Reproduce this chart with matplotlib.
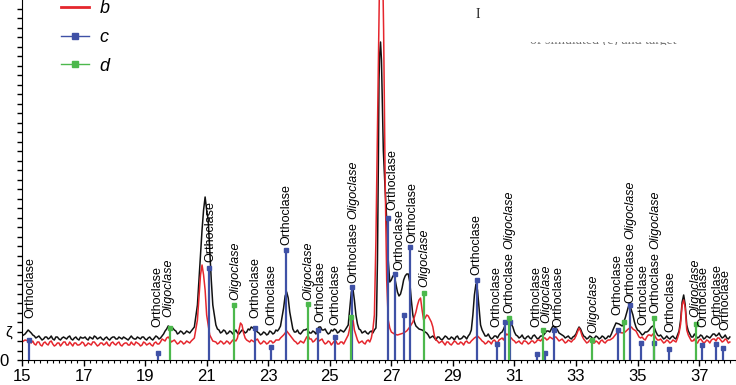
import matplotlib
matplotlib.use("Agg")
import matplotlib.pyplot as plt
import numpy as np
from matplotlib.lines import Line2D
from matplotlib.legend_handler import HandlerLine2D
from matplotlib.transforms import Bbox

plt.rcParams["font.family"] = ["Liberation Sans", "DejaVu Sans"]

# measured (a) and simulated (b) patterns, read every 0.1 deg 2theta
grid_2theta = np.round(np.arange(15.0, 38.05, 0.1), 2)
black_grid = [
    24, 26, 30, 27, 24, 23, 22, 21, 23, 22,
    21, 23, 21, 22, 22, 23, 21, 22, 21, 23,
    22, 21, 23, 21, 23, 22, 21, 22, 21, 22,
    23, 21, 22, 23, 21, 22, 22, 21, 22, 23,
    21, 22, 21, 22, 23, 22, 26, 31, 33, 32,
    29, 27, 28, 27, 28, 29, 33, 55, 105, 150,
    150, 110, 55, 35, 30, 28, 29, 27, 28, 28,
    27, 28, 29, 28, 30, 32, 30, 27, 26, 27,
    26, 28, 27, 29, 34, 52, 68, 48, 31, 28,
    27, 28, 30, 29, 27, 28, 31, 33, 30, 28,
    27, 29, 30, 28, 29, 30, 35, 68, 60, 36,
    30, 28, 27, 28, 27, 32, 280, 270, 170, 100,
    80, 84, 68, 66, 80, 86, 78, 45, 34, 31,
    30, 28, 25, 23, 22, 23, 21, 22, 23, 21,
    22, 23, 21, 22, 23, 24, 30, 65, 70, 35,
    27, 24, 23, 22, 24, 25, 28, 35, 40, 36,
    28, 24, 23, 22, 23, 22, 24, 23, 22, 24,
    27, 29, 31, 33, 30, 26, 24, 23, 22, 23,
    26, 33, 27, 23, 22, 23, 22, 23, 22, 23,
    22, 23, 30, 37, 36, 34, 42, 53, 50, 38,
    30, 27, 26, 28, 31, 34, 28, 24, 23, 22,
    22, 23, 22, 25, 40, 65, 35, 26, 23, 24,
    23, 24, 22, 23, 24, 26, 25, 24, 23, 22,
    23,
]
red_grid = [
    18, 20, 19, 17, 16, 18, 15, 17, 16, 18,
    16, 15, 17, 16, 18, 15, 16, 17, 15, 16,
    17, 15, 16, 18, 16, 15, 17, 16, 15, 17,
    16, 17, 15, 16, 17, 15, 16, 18, 16, 15,
    17, 16, 15, 17, 16, 18, 20, 22, 21, 19,
    18, 17, 18, 17, 18, 19, 22, 40, 85, 85,
    45, 25, 19, 18, 17, 18, 17, 18, 18, 20,
    22, 37, 27, 20, 18, 19, 20, 18, 17, 18,
    17, 19, 18, 20, 22, 25, 29, 25, 21, 18,
    17, 18, 20, 24, 21, 19, 22, 20, 18, 17,
    18, 17, 19, 16, 18, 19, 25, 40, 30, 20,
    18, 17, 19, 18, 30, 120, 340, 420, 180, 40,
    28, 26, 25, 26, 27, 29, 33, 38, 48, 60,
    50, 42, 44, 38, 24, 19, 18, 17, 18, 16,
    17, 18, 16, 17, 18, 17, 19, 22, 24, 21,
    18, 17, 18, 19, 18, 20, 22, 24, 25, 22,
    19, 18, 17, 19, 18, 17, 19, 18, 20, 21,
    22, 21, 22, 23, 21, 20, 19, 18, 19, 20,
    24, 32, 24, 19, 18, 19, 17, 18, 19, 18,
    19, 20, 22, 26, 28, 27, 28, 31, 33, 30,
    26, 22, 21, 23, 25, 26, 22, 20, 19, 18,
    19, 18, 19, 22, 36, 60, 30, 22, 19, 18,
    20, 19, 18, 19, 20, 21, 22, 20, 19, 20,
    18,
]
# in-between readings (x.x5 deg) on the flat stretches
mid_ranges = [(15.35, 20.45), (21.35, 23.35), (23.85, 25.45), (25.95, 26.35),
              (28.15, 29.55), (29.95, 34.15), (34.85, 36.35), (36.65, 37.95)]
black_mid = [
    25, 22, 24, 20, 23, 21, 24, 20, 23, 20, 23, 21, 24, 20, 23, 20, 22, 23, 20, 22,
    24, 21, 23, 20, 23, 20, 23, 21, 23, 21, 22, 20, 24, 21, 23, 21, 23, 20, 23, 20,
    24, 21, 24, 29, 34, 31, 30, 26, 29, 26, 29, 27,
    31, 27, 30, 26, 29, 26, 30, 26, 30, 27, 31, 33, 31, 28, 25, 28, 25, 29, 26, 30, 31,
    28, 30, 26, 30, 31, 27, 29, 26, 33, 30, 31, 26, 30, 31, 27, 30, 28,
    31, 27, 29, 26, 29,
    27, 22, 24, 20, 23, 20, 24, 21, 23, 20, 24, 21, 24, 21, 26,
    30, 24, 26, 21, 24, 22, 27, 31, 39, 37, 33, 25, 22, 25, 21, 24, 21, 25, 21, 24,
    25, 29, 28, 34, 32, 27, 25, 22, 24, 21, 24, 30, 31, 24, 21, 24, 21, 24, 21, 24,
    21, 24, 26,
    45, 33, 29, 25, 28, 29, 33, 32, 25, 25, 21, 24, 21, 24, 21, 29,
    29, 23, 26, 22, 25, 21, 24, 22, 26, 24, 27, 22, 25, 21,
]
red_mid = [
    19, 15, 18, 14, 18, 15, 19, 14, 17, 14, 18, 15, 18, 14, 17, 15, 18, 14, 17, 15,
    18, 14, 17, 15, 18, 14, 18, 15, 18, 14, 17, 15, 18, 15, 17, 14, 18, 15, 17, 14,
    18, 16, 21, 19, 23, 18, 20, 16, 19, 16, 19, 17,
    16, 19, 16, 19, 16, 20, 19, 30, 35, 22, 19, 20, 18, 21, 16, 19, 16, 19, 17, 20, 20,
    19, 16, 19, 17, 23, 21, 18, 21, 19, 21, 16, 19, 15, 19, 16, 18, 16,
    17, 19, 16, 20, 22,
    45, 41, 33, 20, 17, 19, 15, 18, 15, 19, 16, 18, 15, 19, 17,
    19, 16, 19, 16, 20, 17, 21, 20, 26, 23, 20, 17, 19, 16, 19, 16, 19, 17, 20, 19,
    22, 20, 23, 21, 23, 19, 21, 17, 20, 18, 21, 28, 29, 21, 17, 20, 17, 19, 16, 20,
    17, 20, 21,
    31, 29, 23, 23, 20, 25, 24, 25, 20, 21, 17, 20, 17, 20, 18, 27,
    25, 19, 21, 17, 21, 17, 20, 17, 21, 19, 22, 18, 21, 17,
]
# extra points read on the peaks
black_peak_2theta = [20.75, 20.85, 20.95, 21.05, 21.15, 23.55, 23.65, 25.65, 25.75, 25.85,
                     26.45, 26.52, 26.55, 26.58, 26.62, 26.65, 26.68, 26.74, 26.85, 26.95,
                     27.05, 27.15, 27.25, 27.35, 27.45, 27.55, 27.65, 27.75,
                     29.65, 29.75, 29.85, 34.75, 36.45, 36.55]
black_peak_counts = [80, 130, 163, 140, 80, 64, 62, 52, 72, 45,
                     30, 45, 100, 200, 305, 318, 300, 210, 140, 78,
                     84, 76, 64, 72, 84, 86, 60, 38,
                     45, 76, 52, 55, 58, 55]
red_peak_2theta = [20.75, 20.85, 20.95, 25.65, 25.75,
                   26.45, 26.55, 26.65, 26.72, 26.75, 26.85, 26.95,
                   27.85, 27.95, 28.05, 36.45, 36.55]
red_peak_counts = [62, 95, 70, 32, 42,
                   45, 230, 460, 390, 330, 80, 32,
                   55, 62, 40, 55, 52]

# reference sticks: orthoclase (c) and oligoclase (d)
ortho_2theta = [15.23, 19.42, 21.06, 22.58, 23.10, 23.58, 24.61, 25.16, 25.71, 26.90,
                27.13, 27.42, 27.61, 29.77, 30.45, 30.71, 30.87, 31.74, 32.00, 32.29,
                34.35, 34.74, 35.10, 35.52, 36.03, 37.10, 37.55, 37.77]
ortho_counts = [20, 7, 92, 32, 13, 110, 30, 23, 73, 142,
                86, 45, 113, 80, 16, 38, 38, 6, 7, 30,
                30, 55, 17, 17, 11, 15, 16, 12]
oligo_2theta = [19.81, 21.90, 24.29, 25.68, 28.06, 30.81, 31.94, 33.52, 34.55, 35.52, 36.90]
oligo_counts = [32, 55, 56, 43, 67, 42, 30, 20, 38, 42, 36]

label_2theta = [15.26, 19.39, 19.77, 21.13, 21.94, 22.58, 23.10, 23.58, 24.29, 24.68,
                25.19, 25.77, 27.03, 27.26, 27.68, 28.06, 29.77, 30.42, 30.84, 31.71,
                32.03, 32.42, 33.55, 34.35, 34.77, 35.19, 35.58, 36.06, 36.87, 37.13,
                37.58, 37.84]
label_base = [42, 33, 43, 98, 60, 42, 35, 115, 60, 38,
              35, 77, 150, 90, 117, 73, 85, 33, 47, 33,
              37, 33, 27, 45, 57, 35, 47, 28, 43, 33,
              35, 30]
label_text = ["Orthoclase", "Orthoclase", "Oligoclase", "Orthoclase", "Oligoclase",
              "Orthoclase", "Orthoclase", "Orthoclase", "Oligoclase", "Orthoclase",
              "Orthoclase", "Orthoclase Oligoclase", "Orthoclase", "Orthoclase", "Orthoclase",
              "Oligoclase", "Orthoclase", "Orthoclase", "Orthoclase Oligoclase", "Orthoclase",
              "Oligoclase", "Orthoclase", "Oligoclase", "Orthoclase", "Orthoclase Oligoclase",
              "Orthoclase", "Orthoclase Oligoclase", "Orthoclase", "Oligoclase", "Orthoclase",
              "Orthoclase", "Orthoclase"]

RED = "#e5262d"
BLUE = "#3f51a6"
GREEN = "#4cb84c"


class EndMarker(HandlerLine2D):
    def get_xdata(self, legend, xdescent, ydescent, width, height, fontsize):
        xdata, _ = super().get_xdata(legend, xdescent, ydescent, width, height, fontsize)
        return xdata, [xdata[-1]]


mid_2theta = np.round(np.concatenate([np.arange(a, b + 0.05, 0.1) for a, b in mid_ranges]), 2)


def merged(parts):
    x = np.concatenate([np.asarray(p[0], float) for p in parts])
    y = np.concatenate([np.asarray(p[1], float) for p in parts])
    o = np.argsort(x, kind="stable")
    return x[o], y[o]


W, H = 736, 385
fig = plt.figure(figsize=(W / 100, H / 100), dpi=100)
ax = fig.add_axes([22 / W, 25 / H, 1 - 22 / W, 1 - 25 / H])
ax.set_xlim(15, 15 + (W - 22) / 31.0)
ax.set_ylim(0, H - 25)

bx, by = merged([(grid_2theta, black_grid), (mid_2theta, black_mid),
                 (black_peak_2theta, black_peak_counts)])
rx, ry = merged([(grid_2theta, red_grid), (mid_2theta, red_mid),
                 (red_peak_2theta, red_peak_counts)])
ax.plot(bx, by, color="#111111", lw=1.1, zorder=2)
ax.plot(rx, ry, color=RED, lw=1.1, zorder=2.1)

ax.vlines(ortho_2theta, 0, ortho_counts, color=BLUE, lw=1.6, zorder=3)
ax.plot(ortho_2theta, ortho_counts, "s", color=BLUE, ms=3, zorder=3)
ax.vlines(oligo_2theta, 0, oligo_counts, color=GREEN, lw=1.6, zorder=3)
ax.plot(oligo_2theta, oligo_counts, "s", color=GREEN, ms=3, zorder=3)

for x, y, t in zip(label_2theta, label_base, label_text):
    words = t.split()
    style = "italic" if words[0] == "Oligoclase" else "normal"
    t1 = ax.text(x, y, words[0], rotation=90, ha="center", va="bottom",
                 fontsize=9, style=style, zorder=4)
    if len(words) > 1:
        ax.annotate(words[1], xy=(0.5, 1), xycoords=t1, xytext=(0, 2.5),
                    textcoords="offset points", rotation=90, ha="center",
                    va="bottom", fontsize=9, style="italic", zorder=4)

for s in ["top", "right"]:
    ax.spines[s].set_visible(False)
ax.set_xticks(np.arange(15, 39, 2))
ax.set_xticks(np.arange(15, 38.3, 0.2), minor=True)
ax.tick_params(axis="x", which="major", length=4, width=1, labelsize=12, pad=2.5)
ax.tick_params(axis="x", which="minor", length=2.5, width=0.8)
yt = np.arange(0, H - 25, 9.5)
ax.set_yticks(yt)
ax.set_yticklabels(["0"] + [""] * (len(yt) - 1))
ax.tick_params(axis="y", length=3.5, width=1, labelsize=12, pad=6)
fig.text(5 / W, 1 - 333 / H, "ζ", fontsize=11, va="center")

la = Line2D([], [], color="#111111", lw=1.5)
lb = Line2D([], [], color=RED, lw=2)
lc = Line2D([], [], color=BLUE, lw=1, marker="s", ms=5)
ld = Line2D([], [], color=GREEN, lw=1, marker="s", ms=5)
fig.legend([la, lb, lc, ld], ["a", "b", "c", "d"], loc="center left",
           bbox_to_anchor=(52 / W, 1 - 23 / H), frameon=False, borderpad=0,
           prop={"style": "italic", "size": 13}, handlelength=1.55,
           handletextpad=0.6, labelspacing=0.65,
           handler_map={lc: EndMarker(), ld: EndMarker()})

# bits of the page caption that show through
fig.text(478 / W, 1 - 15 / H, "I", family="Liberation Serif", fontsize=10,
         ha="center", va="center", color="#222222")
cap = fig.text(530 / W, 1 - 44 / H, "of simulated (c) and target", family="Liberation Serif",
               fontsize=10, color="#777777", va="baseline")
cap.set_clip_box(Bbox([[0, H - 44.5], [W, H - 41.5]]))
cap.set_clip_on(True)

fig.savefig("out.png", dpi=100)
